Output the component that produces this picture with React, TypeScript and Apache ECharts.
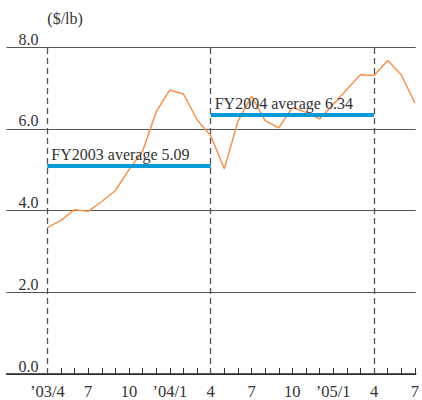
import React, { useEffect, useRef } from "react";
import * as echarts from "echarts";

// Month index 0 = '03/4 ... 27 = '05/7
const monthIndex = [
  0, 1, 2, 3, 4, 5, 6, 7, 8, 9, 10, 11, 12, 13, 14, 15, 16, 17, 18, 19, 20, 21,
  22, 23, 24, 25, 26, 27,
];
const prices = [
  3.58, 3.76, 4.02, 3.98, 4.22, 4.49, 5.0, 5.45, 6.42, 6.95, 6.85, 6.22, 5.83,
  5.02, 6.18, 6.8, 6.2, 6.02, 6.52, 6.4, 6.24, 6.6, 6.96, 7.32, 7.3, 7.67, 7.32,
  6.63,
];
const tickPositions = [0, 3, 6, 9, 12, 15, 18, 21, 24, 27];
const tickLabels = ["’03/4", "7", "10", "’04/1", "4", "7", "10", "’05/1", "4", "7"];
const fyBoundaries = [0, 12, 24];
const averages = [
  { label: "FY2003 average 5.09", value: 5.09, from: 0, to: 12 },
  { label: "FY2004 average 6.34", value: 6.34, from: 12, to: 24 },
];
const yTicks = [0, 2, 4, 6, 8];

const FONT = "'Liberation Serif', 'DejaVu Serif', serif";
const TEXT = "#333";

export default function App() {
  const ref = useRef<HTMLDivElement>(null);
  useEffect(() => {
    if (!ref.current) return;
    const chart = echarts.init(ref.current, undefined, { renderer: "svg" });
    const allMonths = monthIndex;
    chart.setOption({
      animation: false,
      grid: { left: 6.5, right: 4, top: 47, bottom: 25 },
      xAxis: {
        type: "value",
        min: -3,
        max: 27.06,
        splitLine: { show: false },
        axisLine: { show: true, lineStyle: { color: "#222", width: 1.5 } },
        axisTick: {
          show: true,
          inside: true,
          length: 6,
          customValues: allMonths,
          lineStyle: { color: "#333", width: 1 },
        },
        axisLabel: {
          customValues: tickPositions,
          formatter: (v: number) => {
            const i = tickPositions.indexOf(Math.round(v));
            return i >= 0 ? tickLabels[i] : "";
          },
          fontFamily: FONT,
          fontSize: 16.5,
          color: TEXT,
          margin: 9,
        },
      },
      yAxis: {
        type: "value",
        min: yTicks[0],
        max: yTicks[yTicks.length - 1],
        interval: 2,
        name: "($/lb)",
        nameLocation: "end",
        nameGap: 29,
        nameTextStyle: {
          fontFamily: FONT,
          fontSize: 16,
          color: TEXT,
          align: "left",
          verticalAlign: "middle",
        },
        axisLine: { show: false },
        axisTick: { show: false },
        splitLine: { show: true, lineStyle: { color: "#555", width: 1 } },
        axisLabel: {
          inside: true,
          align: "right",
          verticalAlign: "bottom",
          margin: 32,
          fontFamily: FONT,
          fontSize: 16,
          color: TEXT,
          formatter: (v: number) => v.toFixed(1),
        },
      },
      series: [
        {
          type: "line",
          data: [],
          silent: true,
          z: 1,
          markLine: {
            silent: true,
            symbol: "none",
            label: { show: false },
            lineStyle: { color: "#555", type: [6, 4], width: 1.3 },
            data: fyBoundaries.map((x) => ({ xAxis: x })),
          },
        },
        {
          type: "line",
          data: [],
          silent: true,
          z: 2,
          markLine: {
            silent: true,
            symbol: "none",
            lineStyle: { color: "#0a9ad7", type: "solid", width: 4 },
            label: {
              show: true,
              position: "insideStartTop",
              distance: [4, 3],
              fontFamily: FONT,
              fontSize: 16,
              color: TEXT,
              formatter: (p: any) => p.name,
            },
            data: averages.map((a) => [
              { name: a.label, coord: [a.from, a.value] },
              { coord: [a.to, a.value] },
            ]),
          },
        },
        {
          type: "line",
          z: 3,
          data: monthIndex.map((m, i) => [m, prices[i]]),
          showSymbol: false,
          lineStyle: { color: "#f5924e", width: 1.5 },
          itemStyle: { color: "#f5924e" },
        },
      ],
    });
    return () => chart.dispose();
  }, []);
  return <div ref={ref} style={{ width: 422, height: 400, position: "absolute", left: 0, top: 0 }} />;
}
